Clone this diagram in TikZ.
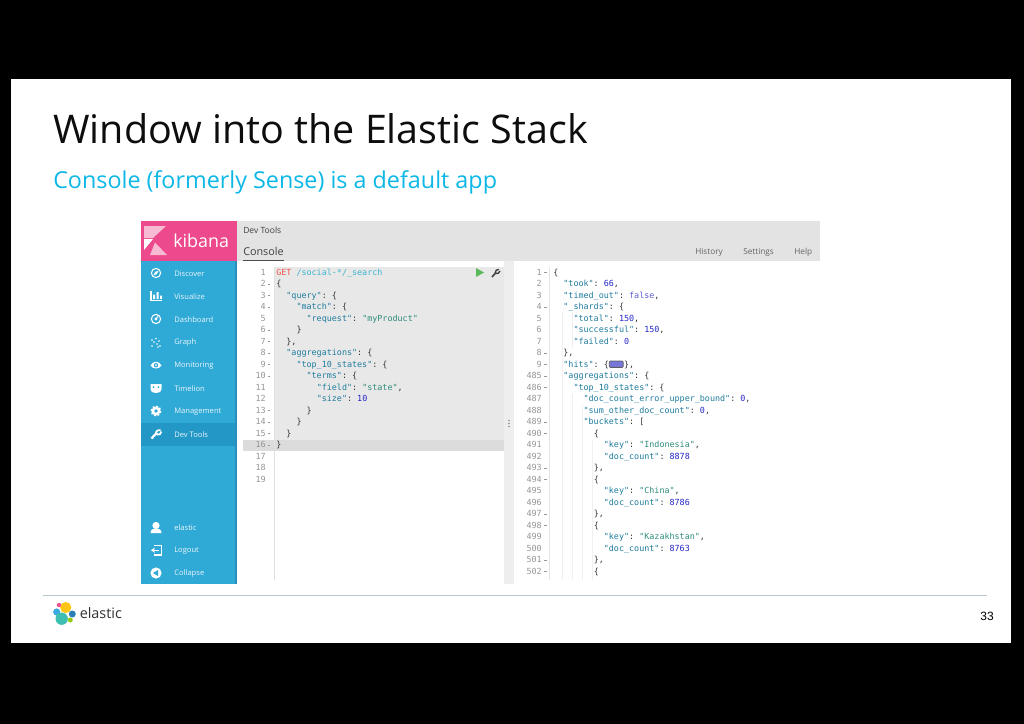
\documentclass[tikz,border=0pt]{standalone}
\usetikzlibrary{arrows.meta}
\usepackage{fontspec}
\setmainfont{Open Sans}
\setmonofont{DejaVu Sans Mono}
\newfontfamily\numfont{Liberation Sans}
\definecolor{kpink}{HTML}{EC4A8C}
\definecolor{ksky}{HTML}{2FA9D6}
\definecolor{kskydark}{HTML}{2398C6}
\definecolor{kedge}{HTML}{2A8FB8}
\definecolor{panel}{HTML}{E3E3E3}
\definecolor{edbg}{HTML}{E8E8E8}
\definecolor{edhi}{HTML}{DCDCDC}
\definecolor{split}{HTML}{EEEEEE}
\definecolor{jkey}{HTML}{1F7C9E}
\definecolor{jstr}{HTML}{2E8C7C}
\definecolor{jnum}{HTML}{2626C8}
\definecolor{jbool}{HTML}{5E5ED2}
\definecolor{jp}{HTML}{333333}
\definecolor{gnum}{HTML}{969696}
\definecolor{subt}{HTML}{0DB8E6}
\definecolor{footline}{HTML}{B8C6D0}
\definecolor{playg}{HTML}{5CB85C}
\definecolor{eyellow}{HTML}{FEC514}
\definecolor{epink}{HTML}{F04E98}
\definecolor{eblue}{HTML}{3BA9E0}
\definecolor{eblued}{HTML}{2A7FB8}
\definecolor{egreen}{HTML}{93C90E}
\definecolor{eteal}{HTML}{3EBEB0}
\newcommand\K[1]{\textcolor{jkey}{#1}}
\newcommand\Sv[1]{\textcolor{jstr}{#1}}
\newcommand\Nv[1]{\textcolor{jnum}{#1}}
\newcommand\lline[3]{\node[code,name=l#1] at ({276+5.06*#2},{272+11.5*(#1-1)+3}) {#3};}
\newcommand\rline[3]{\node[code,name=r#1] at ({553+5.06*#2},{272+11.5*(#1-1)+3}) {#3};}
\newcommand\navitem[3]{\node[navtext,name=#1] at (174,#2) {#3};}
\tikzset{
  code/.style={anchor=base west,inner sep=0pt,text=jp,font=\ttfamily\fontsize{6.3}{7}\selectfont},
  gutter/.style={anchor=base east,inner sep=0pt,text=gnum,font=\ttfamily\fontsize{6.3}{7}\selectfont},
  navtext/.style={anchor=west,inner sep=0pt,text=white!90!ksky,font=\fontsize{5.7}{7}\selectfont},
  tabtext/.style={anchor=west,inner sep=0pt,text=black!60,font=\fontsize{6.2}{8}\selectfont},
  iconline/.style={white,line width=0.8pt},
  guide/.style={black!6,line width=0.4pt},
  foldmark/.style={gnum,line width=0.5pt}
}
\begin{document}
\begin{tikzpicture}[x=0.75pt,y=-0.75pt]
\useasboundingbox (0,0) rectangle (1024,724);
\fill[black] (0,0) rectangle (1024,724);
\fill[white] (11,79) rectangle (1011,643);
% titles
\node[anchor=base west,inner sep=0pt,text=black!95,font=\fontsize{29.6}{34}\selectfont,name=title] at (53,143) {Window into the Elastic Stack};
\node[anchor=base west,inner sep=0pt,text=subt,font=\fontsize{17.5}{22}\selectfont,name=subtitle] at (53,188) {Console (formerly Sense) is a default app};
% panels
\fill[panel] (237,221) rectangle (820,261);
\fill[split] (504,261) rectangle (514,584);
\fill[edbg] (275,267) rectangle (504,451);
\fill[edhi] (243,440) rectangle (504,451);
\draw[black!12,line width=0.5pt] (274.5,267) -- (274.5,580);
\draw[black!10,line width=0.5pt] (549,267) -- (549,580);
\foreach \yy in {420.5,423.5,426.5} \fill[black!45] (509,\yy) circle (0.8);
% sidebar
\fill[ksky] (141,261) rectangle (237,584);
\fill[kedge] (234.5,261) rectangle (237,584);
\fill[kskydark] (141,423) rectangle (234.5,446);
\fill[kpink] (141,221) rectangle (237,261);
% kibana logo
\fill[white!62!kpink] (144,226) -- (166,226) -- (153,238) -- (144,238) -- cycle;
\fill[white] (144,239) -- (153,239) -- (144,250) -- cycle;
\fill[white!62!kpink] (150,255) -- (155,242.5) -- (167,255) -- cycle;
\node[anchor=base west,inner sep=0pt,text=white,font=\fontsize{13.4}{18}\selectfont,name=kibana] at (173,247.5) {kibana};
% tabs
\node[tabtext,text=black!75,font=\fontsize{6.4}{8}\selectfont,name=devtools] at (243,230) {Dev Tools};
\node[tabtext,text=black!75,font=\fontsize{8.1}{10}\selectfont,name=console] at (243,251) {Console};
\draw[black!70,line width=0.6pt] (243,260.3) -- (284,260.3);
\node[tabtext,name=history] at (695,252) {History};
\node[tabtext,name=settings] at (743,252) {Settings};
\node[tabtext,name=help] at (794,252) {Help};
% nav labels
\navitem{discover}{273.5}{Discover}
\navitem{visualize}{296.5}{Visualize}
\navitem{dashboard}{319.5}{Dashboard}
\navitem{graph}{342.5}{Graph}
\navitem{monitoring}{365.5}{Monitoring}
\navitem{timelion}{388.5}{Timelion}
\navitem{management}{411.5}{Management}
\navitem{devtoolsnav}{434.5}{Dev Tools}
\navitem{elastic}{527.5}{elastic}
\navitem{logout}{550.5}{Logout}
\navitem{collapse}{573.5}{Collapse}
% nav icons
\draw[iconline] (156,273) circle (4.6);
\fill[white] (153.5,275.5) -- (155,272) -- (158.5,270.5) -- (157,274) -- cycle;
\draw[iconline] (151,291) -- (151,300.5) -- (162,300.5);
\fill[white] (153,294.5) rectangle (155,299) (156.5,292) rectangle (158.5,299) (160,295.5) rectangle (162,299);
\draw[iconline] (156,319) circle (4.6);
\fill[white] (156,319) circle (1.6);
\draw[white,line width=0.7pt] (156,319) -- (158,316);
\foreach \px/\py in {152/346,154/342,156/338.5,157/344,159/341,160/346,152/340,158/347}
  \fill[white] (\px,\py) circle (0.8);
\fill[white] (150.5,365.5) .. controls (153,360.5) and (159,360.5) .. (161.5,365.5) .. controls (159,369.5) and (153,369.5) .. (150.5,365.5) -- cycle;
\fill[ksky] (156,365.2) circle (2.2);
\fill[white] (156,365.2) circle (1);
\fill[white] (150.5,384) rectangle (161.5,389) (150.5,389) .. controls (151,392.5) and (154,393) .. (156,393) .. controls (158,393) and (161,392.5) .. (161.5,389) -- cycle;
\fill[ksky] (153.5,387) circle (1) (158.5,387) circle (1);
\draw[white,line width=1.4pt,dash pattern=on 1.5pt off 1.15pt] (156,411) circle (4.6);
\fill[white] (156,411) circle (4.4);
\fill[ksky] (156,411) circle (1.8);
\draw[white,line width=1.7pt] (151.5,438.5) -- (157,432.5);
\draw[white,line width=1.3pt] (156,434) .. controls (155.5,431) and (158,429.5) .. (160.5,430);
\draw[white,line width=1.3pt] (156.5,434.5) .. controls (159,435.5) and (161,434) .. (161.5,431.5);
\fill[white] (156,525.5) circle (3.6);
\fill[white] (150.5,533) .. controls (150.5,529.5) and (153,528.5) .. (156,528.5) .. controls (159,528.5) and (161.5,529.5) .. (161.5,533) -- cycle;
\draw[iconline] (154,545.5) -- (161.5,545.5) -- (161.5,555) -- (154,555);
\draw[iconline,-{Stealth[length=3pt,width=4pt]}] (158.5,550.2) -- (151,550.2);
\fill[white] (156,573) circle (5.6);
\fill[ksky] (153,573) -- (158,570) -- (158,576) -- cycle;
% left gutter
\foreach \n in {1,...,19}
  \node[gutter,name=ln\n] at (266,{272+11.5*(\n-1)+3}) {\n};
\foreach \n in {2,3,4,6,7,8,9,10,13,14,15,16}
  \draw[foldmark] (268.2,{272+11.5*(\n-1)+0.5}) -- (270.4,{272+11.5*(\n-1)+0.5});
% left code
\node[code,name=l1] at (276,275) {\textcolor[HTML]{F0564E}{GET} \textcolor[HTML]{3DB4D2}{/social-*/\_search}};
\lline{2}{0}{\{}
\lline{3}{2}{\K{"query"}: \{}
\lline{4}{4}{\K{"match"}: \{}
\lline{5}{6}{\K{"request"}: \Sv{"myProduct"}}
\lline{6}{4}{\}}
\lline{7}{2}{\},}
\lline{8}{2}{\K{"aggregations"}: \{}
\lline{9}{4}{\K{"top\_10\_states"}: \{}
\lline{10}{6}{\K{"terms"}: \{}
\lline{11}{8}{\K{"field"}: \Sv{"state"},}
\lline{12}{8}{\K{"size"}: \Nv{10}}
\lline{13}{6}{\}}
\lline{14}{4}{\}}
\lline{15}{2}{\}}
\lline{16}{0}{\}}
% play + wrench
\fill[playg] (476,268) -- (484,272.5) -- (476,277) -- cycle;
\draw[black!75,line width=1.2pt] (492,277) -- (496,272.5);
\draw[black!75,line width=1pt] (495.2,273) .. controls (495,270.5) and (497,269) .. (499,269.5);
\draw[black!75,line width=1pt] (495.5,273.5) .. controls (497.5,274.2) and (499.5,273) .. (500,271);
% right gutter
\foreach \r/\n in {1/1,2/2,3/3,4/4,5/5,6/6,7/7,8/8,9/9,10/485,11/486,12/487,13/488,14/489,15/490,16/491,17/492,18/493,19/494,20/495,21/496,22/497,23/498,24/499,25/500,26/501,27/502}
  \node[gutter,name=rn\r] at (542,{272+11.5*(\r-1)+3}) {\n};
\foreach \r in {1,4,8,9,10,11,14,15,18,19,22,23,26,27}
  \draw[foldmark] (544.3,{272+11.5*(\r-1)+0.5}) -- (546.5,{272+11.5*(\r-1)+0.5});
% guides
\draw[guide] (562.5,312) -- (562.5,580) (572.5,312) -- (572.5,348);
\draw[guide] (572.5,394) -- (572.5,580) (582.5,405) -- (582.5,580) (592.5,440) -- (592.5,580);
% right code
\rline{1}{0}{\{}
\rline{2}{2}{\K{"took"}: \Nv{66},}
\rline{3}{2}{\K{"timed\_out"}: \textcolor{jbool}{false},}
\rline{4}{2}{\K{"\_shards"}: \{}
\rline{5}{4}{\K{"total"}: \Nv{150},}
\rline{6}{4}{\K{"successful"}: \Nv{150},}
\rline{7}{4}{\K{"failed"}: \Nv{0}}
\rline{8}{2}{\},}
\rline{9}{2}{\K{"hits"}: \{}
\filldraw[fill=jbool!85,draw=jp!80,line width=0.5pt,rounded corners=0.8] (609.3,361) rectangle (623.2,367.5);
\node[code,name=r9b] at ({553+5.06*14},{272+11.5*8+3}) {\},};
\rline{10}{2}{\K{"aggregations"}: \{}
\rline{11}{4}{\K{"top\_10\_states"}: \{}
\rline{12}{6}{\K{"doc\_count\_error\_upper\_bound"}: \Nv{0},}
\rline{13}{6}{\K{"sum\_other\_doc\_count"}: \Nv{0},}
\rline{14}{6}{\K{"buckets"}: [}
\rline{15}{8}{\{}
\rline{16}{10}{\K{"key"}: \Sv{"Indonesia"},}
\rline{17}{10}{\K{"doc\_count"}: \Nv{8878}}
\rline{18}{8}{\},}
\rline{19}{8}{\{}
\rline{20}{10}{\K{"key"}: \Sv{"China"},}
\rline{21}{10}{\K{"doc\_count"}: \Nv{8786}}
\rline{22}{8}{\},}
\rline{23}{8}{\{}
\rline{24}{10}{\K{"key"}: \Sv{"Kazakhstan"},}
\rline{25}{10}{\K{"doc\_count"}: \Nv{8763}}
\rline{26}{8}{\},}
\rline{27}{8}{\{}
% footer
\draw[footline,line width=0.6pt] (43,595) -- (987,595);
\fill[eyellow] (65.7,607.5) circle (5.6);
\fill[epink] (59,605) circle (2.2);
\fill[eblue] (56.7,612) circle (3.6);
\fill[eblued] (72.3,614) circle (3.5);
\fill[egreen] (70.3,620) circle (2.5);
\fill[eteal] (61.7,618.7) circle (6.2);
\node[anchor=base west,inner sep=0pt,text=black!80,font=\fontsize{10.8}{13}\selectfont,name=elasticword] at (79.5,618.7) {elastic};
\node[anchor=base east,inner sep=0pt,text=black,font=\numfont\fontsize{9}{11}\selectfont,name=pagenum] at (994,620) {33};
\end{tikzpicture}
\end{document}
